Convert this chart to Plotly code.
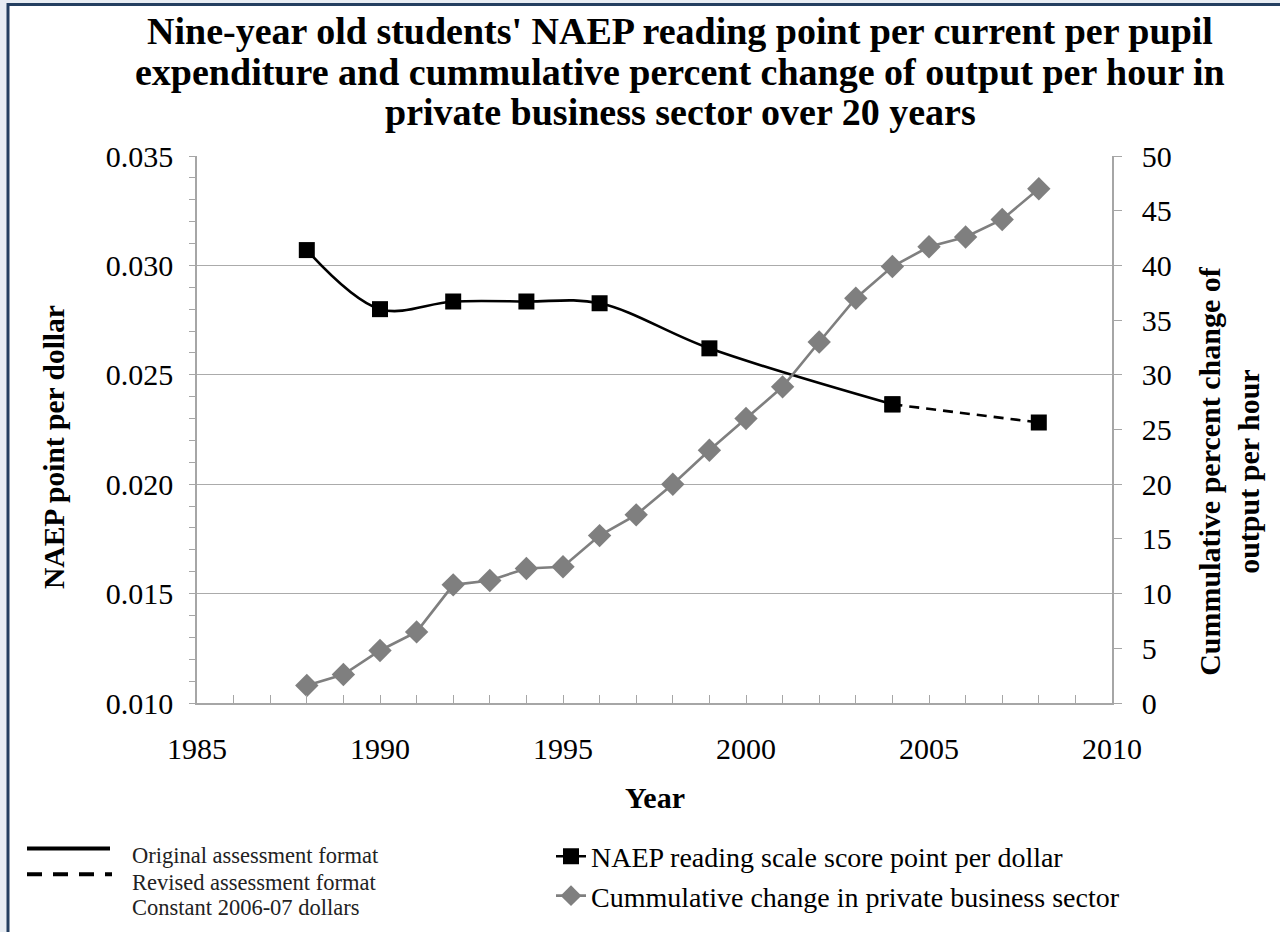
import plotly.graph_objects as go

# ---- data ----
naep_years = [1988, 1990, 1992, 1994, 1996, 1999, 2004, 2008]
naep_points = [0.0307, 0.0280, 0.02835, 0.02835, 0.02827, 0.02621, 0.02365, 0.02282]

prod_years = list(range(1988, 2009))
prod_change = [1.6, 2.6, 4.8, 6.5, 10.8, 11.2, 12.3, 12.45, 15.3, 17.2, 20.0,
               23.1, 26.0, 28.9, 33.0, 37.0, 39.9, 41.7, 42.6, 44.2, 47.0]

naep_name = "NAEP reading scale score point per dollar"
prod_name = "Cummulative change in private business sector"
title_lines = ["Nine-year old students' NAEP reading point per current per pupil",
               "expenditure and cummulative percent change of output per hour in",
               "private business sector over 20 years"]
format_labels = ["Original assessment format", "Revised assessment format",
                 "Constant 2006-07 dollars"]

# ---- layout geometry (pixels) ----
W, H = 1280, 932
L, R, T, B = 197, 1112, 156, 705
def px(x):
    return (x - L) / (R - L)
def py(y):
    return (B - y) / (B - T)

SERIF = "Liberation Serif"
GRAY = "#7F7F7F"
AXIS = "#A6A6A6"

fig = go.Figure()

fig.add_trace(go.Scatter(
    x=naep_years[:7], y=naep_points[:7], name=naep_name,
    mode="lines+markers", line=dict(color="black", width=2.6, shape="spline"),
    marker=dict(symbol="square", size=16, color="black"),
    legendgroup="a", legendrank=1))
fig.add_trace(go.Scatter(
    x=naep_years[6:], y=naep_points[6:], showlegend=False,
    mode="lines+markers", line=dict(color="black", width=2.6, dash="10px,7px"),
    marker=dict(symbol="square", size=16, color="black")))
fig.add_trace(go.Scatter(
    x=prod_years, y=prod_change, name=prod_name, yaxis="y2",
    mode="lines+markers", line=dict(color=GRAY, width=2.6),
    marker=dict(symbol="diamond", size=18, color=GRAY),
    legendgroup="b", legendrank=2))

tickfont = dict(family=SERIF, size=30, color="black")

fig.update_layout(
    width=W, height=H, autosize=False,
    margin=dict(l=L, r=W - R, t=T, b=H - B, pad=0),
    paper_bgcolor="#E8EDF3", plot_bgcolor="white",
    showlegend=True,
    legend=dict(x=px(551), y=py(834), xanchor="left", yanchor="top",
                font=dict(family=SERIF, size=28, color="black"),
                bgcolor="rgba(0,0,0,0)", itemwidth=30, tracegroupgap=0,
                itemclick=False),
    xaxis=dict(range=[1985, 2010], dtick=5, tick0=1985, showgrid=False,
               showline=True, linecolor=AXIS, linewidth=1.5,
               ticks="inside", ticklen=8, tickcolor=AXIS,
               minor=dict(dtick=1, ticks="inside", ticklen=8, tickcolor=AXIS),
               tickfont=tickfont, ticklabelstandoff=18, zeroline=False),
    yaxis=dict(range=[0.010, 0.035], dtick=0.005, tick0=0.010, tickformat=".3f",
               showgrid=True, gridcolor="#ABABAB", gridwidth=1,
               showline=True, linecolor=AXIS, linewidth=1.5,
               ticks="outside", ticklen=6, tickcolor=AXIS,
               minor=dict(dtick=0.001, ticks="outside", ticklen=6, tickcolor=AXIS,
                          showgrid=False),
               tickfont=tickfont, ticklabelstandoff=10, zeroline=False),
    yaxis2=dict(range=[0, 50], dtick=5, overlaying="y", side="right",
                showgrid=False, showline=True, linecolor=AXIS, linewidth=1.5,
                ticks="outside", ticklen=8, tickcolor=AXIS,
                tickfont=tickfont, ticklabelstandoff=14, zeroline=False),
)

# page frame
fig.add_shape(type="rect", xref="paper", yref="paper", layer="below",
              x0=px(8), x1=px(1300), y0=py(960), y1=py(4),
              line=dict(color="#243F60", width=3), fillcolor="white")

# chart title (one annotation per line to keep the tight line spacing)
for line, yy in zip(title_lines, [31, 72, 112]):
    fig.add_annotation(text="<b>" + line + "</b>", xref="paper", yref="paper",
                       x=px(680), y=py(yy), xanchor="center", yanchor="middle",
                       showarrow=False,
                       font=dict(family=SERIF, size=38, color="black"))

# axis titles
fig.add_annotation(text="<b>Year</b>", xref="paper", yref="paper",
                   x=px(655), y=py(800), xanchor="center", yanchor="middle",
                   showarrow=False,
                   font=dict(family=SERIF, size=30, color="black"))
fig.add_annotation(text="<b>NAEP point per dollar</b>", xref="paper", yref="paper",
                   x=px(54), y=py(448), xanchor="center", yanchor="middle",
                   showarrow=False, textangle=-90,
                   font=dict(family=SERIF, size=29.5, color="black"))
fig.add_annotation(text="<b>Cummulative percent change of<br>output per hour</b>",
                   xref="paper", yref="paper", x=px(1229), y=py(472),
                   xanchor="center", yanchor="middle",
                   showarrow=False, textangle=-90,
                   font=dict(family=SERIF, size=30, color="black"))

# format key (line style legend)
fig.add_shape(type="line", xref="paper", yref="paper",
              x0=px(27), x1=px(110), y0=py(851), y1=py(851),
              line=dict(color="black", width=4))
fig.add_shape(type="line", xref="paper", yref="paper",
              x0=px(27), x1=px(112), y0=py(877), y1=py(877),
              line=dict(color="black", width=4, dash="15px,11px"))
for lab, yy in zip(format_labels, [858, 885, 910]):
    fig.add_annotation(text=lab, xref="paper", yref="paper",
                       x=px(130), y=py(yy), xanchor="left", yanchor="middle",
                       showarrow=False,
                       font=dict(family=SERIF, size=22.5, color="#222222"))

fig.write_html("out.html", config={"displayModeBar": False},
               post_script="document.body.style.margin='0px';document.body.style.overflow='hidden';")
